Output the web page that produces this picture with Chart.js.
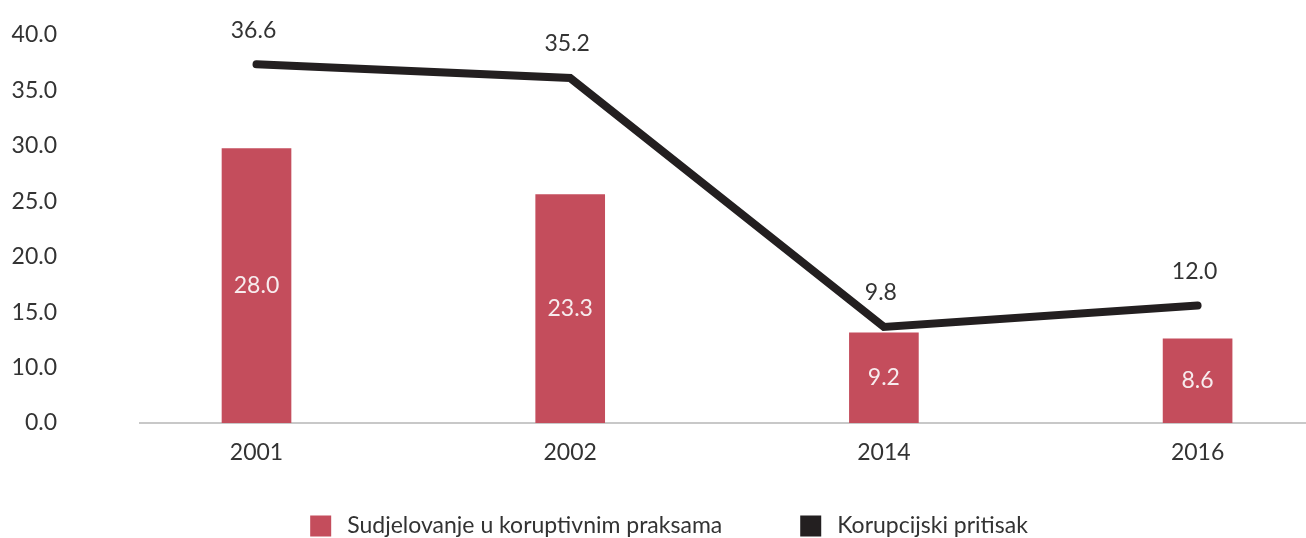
<!DOCTYPE html>
<html>
<head>
<meta charset="utf-8">
<script src="https://cdn.jsdelivr.net/npm/chart.js@4.4.1/dist/chart.umd.min.js"></script>
<style>
	html, body { margin: 0; padding: 0; background: #fff; overflow: hidden; }
	#wrap { width: 1306px; height: 538px; position: relative; }
</style>
</head>
<body>
<div id="wrap"><canvas id="chart"></canvas></div>
<script>
// Chart data.
var years = [ '2001', '2002', '2014', '2016' ];
var sudjelovanje = [ 28.0, 23.3, 9.2, 8.6 ];
var pritisak = [ 36.6, 35.2, 9.8, 12.0 ];
var yTickLabels = [ '0.0', '10.0', '15.0', '20.0', '25.0', '30.0', '35.0', '40.0' ];

var FONT = "Lato, 'Open Sans', sans-serif";
var TEXT = '#333333';
var BAR = '#c44d5c';
var LINE = '#231f20';

function xy( values ) {
	return values.map( function ( v, i ) { return { x: i, y: v }; } );
}

// Value labels: centred in the bars, above the line points.
var valueLabels = {
	id: 'valueLabels',
	afterDatasetsDraw: function ( chart ) {
		var ctx = chart.ctx;
		ctx.save();
		ctx.font = '23px ' + FONT;
		ctx.textAlign = 'center';
		ctx.textBaseline = 'middle';
		chart.data.datasets.forEach( function ( ds, di ) {
			var meta = chart.getDatasetMeta( di );
			meta.data.forEach( function ( el, i ) {
				var txt = ds.data[ i ].y.toFixed( 1 );
				if ( meta.type === 'bar' ) {
					ctx.fillStyle = '#f7ecee';
					ctx.fillText( txt, el.x, ( el.y + el.base ) / 2 );
				} else {
					ctx.fillStyle = TEXT;
					ctx.fillText( txt, el.x - 3, el.y - 34 );
				}
			} );
		} );
		ctx.restore();
	}
};

// Bottom legend, drawn by hand so the spacing can follow the original.
var bottomLegend = {
	id: 'bottomLegend',
	afterDraw: function ( chart ) {
		var ctx = chart.ctx;
		var box = 21, gapText = 16, gapItem = 78;
		ctx.save();
		ctx.font = '23px ' + FONT;
		ctx.textBaseline = 'middle';
		var items = chart.data.datasets.map( function ( ds ) {
			return { label: ds.label, color: ds.backgroundColor, w: ctx.measureText( ds.label ).width };
		} );
		var total = 0;
		items.forEach( function ( it, i ) {
			total += box + gapText + it.w + ( i ? gapItem : 0 );
		} );
		var x = 669 - total / 2;
		var yMid = 526;
		items.forEach( function ( it ) {
			ctx.fillStyle = it.color;
			ctx.fillRect( x, yMid - box / 2, box, box );
			ctx.fillStyle = TEXT;
			ctx.fillText( it.label, x + box + gapText, yMid );
			x += box + gapText + it.w + gapItem;
		} );
		ctx.restore();
	}
};

new Chart( document.getElementById( 'chart' ), {
	type: 'bar',
	data: {
		datasets: [
			{
				type: 'bar',
				label: 'Sudjelovanje u koruptivnim praksama',
				data: xy( sudjelovanje ),
				backgroundColor: BAR,
				barThickness: 69
			},
			{
				type: 'line',
				label: 'Korupcijski pritisak',
				data: xy( pritisak ),
				borderColor: LINE,
				backgroundColor: LINE,
				borderWidth: 8,
				borderCapStyle: 'round',
				borderJoinStyle: 'miter',
				pointRadius: 0,
				tension: 0
			}
		]
	},
	options: {
		responsive: true,
		maintainAspectRatio: false,
		animation: false,
		layout: { padding: { left: 0, top: 31, right: 0, bottom: 65 } },
		plugins: {
			tooltip: { enabled: false },
			legend: { display: false }
		},
		scales: {
			x: {
				type: 'linear',
				offset: false,
				min: -0.3714,
				max: 3.3456,
				grid: { display: false, drawTicks: false, offset: false },
				border: { display: true, color: '#c8c8c8', width: 2 },
				afterBuildTicks: function ( scale ) {
					scale.ticks = years.map( function ( y, i ) { return { value: i }; } );
				},
				afterFit: function ( scale ) {
					scale.height = 50;
					scale.paddingLeft = 0;
					scale.paddingRight = 0;
				},
				ticks: {
					autoSkip: false,
					maxRotation: 0,
					padding: 16,
					color: TEXT,
					font: { family: FONT, size: 23 },
					callback: function ( v ) { return years[ v ]; }
				}
			},
			y: {
				min: 0,
				max: 40,
				grid: { display: false, drawTicks: false },
				border: { display: false },
				afterBuildTicks: function ( scale ) {
					scale.ticks = yTickLabels.map( function ( t, i ) { return { value: i * 39.6 / 7 }; } );
				},
				afterFit: function ( scale ) {
					scale.width = 140;
					scale.paddingTop = 0;
					scale.paddingBottom = 0;
				},
				ticks: {
					padding: 83,
					color: TEXT,
					font: { family: FONT, size: 23 },
					callback: function ( v, i ) { return yTickLabels[ i ]; }
				}
			}
		}
	},
	plugins: [ valueLabels, bottomLegend ]
} );
</script>
</body>
</html>
